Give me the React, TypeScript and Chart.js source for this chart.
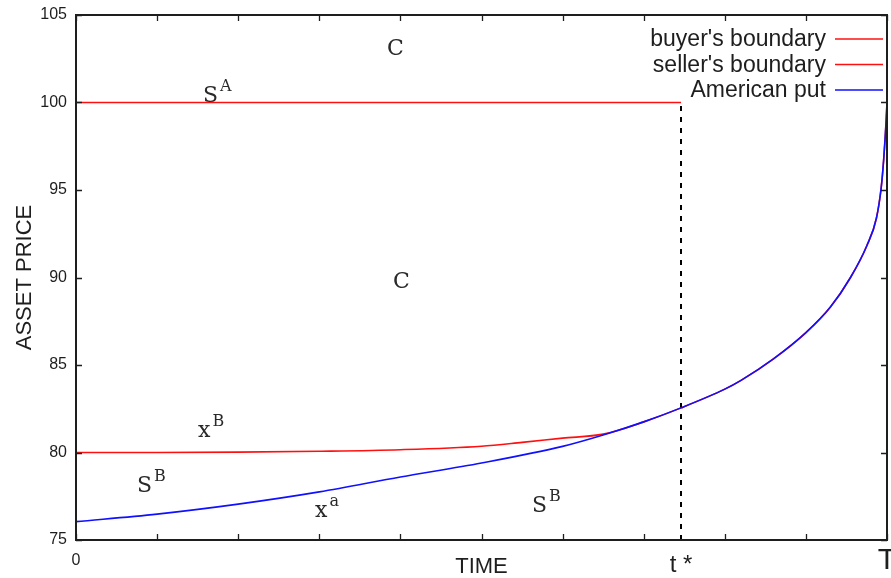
import React, { useEffect, useRef } from "react";
import { Chart, registerables } from "chart.js";

Chart.register(...registerables);

// ---------- data ----------
const timeTickValues = [0, 0.1, 0.2, 0.3, 0.4, 0.5, 0.6, 0.7, 0.8, 0.9, 1];
const tStar = 0.746;
const priceTicks = [75, 80, 85, 90, 95, 100, 105];

const putTime = [0, 0.1, 0.2, 0.3, 0.4, 0.5, 0.6, 0.65, 0.7, 0.746, 0.8, 0.82, 0.86, 0.9, 0.93, 0.955, 0.975, 0.987, 0.993, 0.996, 0.999, 1];
const putPrice = [76.05, 76.48, 77.05, 77.75, 78.6, 79.4, 80.35, 81.0, 81.75, 82.55, 83.62, 84.12, 85.35, 86.85, 88.3, 90.0, 91.8, 93.4, 95.2, 96.8, 99.0, 100];

const buyerTime = [0, 0.1, 0.2, 0.3, 0.4, 0.5, 0.55, 0.6, 0.65, 0.7, 0.746, 0.8, 0.82, 0.86, 0.9, 0.93, 0.955, 0.975, 0.987, 0.993, 0.996, 0.999, 1];
const buyerPrice = [80.0, 80.0, 80.02, 80.07, 80.16, 80.36, 80.58, 80.82, 81.05, 81.75, 82.55, 83.62, 84.12, 85.35, 86.85, 88.3, 90.0, 91.8, 93.4, 95.2, 96.8, 99.0, 100];

const sellerTime = [0, tStar];
const sellerPrice = [100, 100];

const stopTime = [tStar, tStar];
const stopPrice = [99.8, 75];

const seriesLabels = ["buyer's boundary", "seller's boundary", "American put"];

// region annotations (data coordinates: time, price)
const regionText = ["C", "C", "S", "x", "S", "x", "S"];
const regionSup = ["", "", "A", "B", "B", "a", "B"];
const regionTime = [0.3835, 0.3909, 0.1566, 0.1504, 0.0752, 0.2947, 0.5623];
const regionPrice = [102.71, 89.4, 100.03, 80.89, 77.74, 76.31, 76.6];

// ---------- styling ----------
const INK = "#1e1e1e";
const SANS = "'Liberation Sans', Arial, sans-serif";
const SERIF = "'DejaVu Serif', serif";
const RED = "#ff1010";
const BLUE = "#1010ff";

const pts = (xs: number[], ys: number[]) => xs.map((x, i) => ({ x, y: ys[i] }));

const framePlugin = {
  id: "gnuFrame",
  afterDatasetsDraw(chart: any) {
    const { ctx, chartArea: a, scales } = chart;
    const xs = scales.x;
    const ys = scales.y;
    ctx.save();
    ctx.strokeStyle = INK;
    ctx.lineWidth = 1.3;
    const len = 6;
    ctx.beginPath();
    xs.ticks.forEach((t: any) => {
      if (t.value === tStar) return;
      const px = Math.round(xs.getPixelForValue(t.value)) + 0.5;
      ctx.moveTo(px, a.bottom);
      ctx.lineTo(px, a.bottom - len);
      ctx.moveTo(px, a.top);
      ctx.lineTo(px, a.top + len);
    });
    ys.ticks.forEach((t: any) => {
      const py = Math.round(ys.getPixelForValue(t.value)) + 0.5;
      ctx.moveTo(a.left, py);
      ctx.lineTo(a.left + len, py);
      ctx.moveTo(a.right, py);
      ctx.lineTo(a.right - len, py);
    });
    ctx.stroke();
    ctx.lineWidth = 2;
    ctx.strokeRect(a.left, a.top, a.right - a.left, a.bottom - a.top);
    ctx.restore();
  },
};

const keyPlugin = {
  id: "gnuKey",
  afterDraw(chart: any) {
    const { ctx, chartArea: a } = chart;
    const rows = chart.data.datasets.filter((d: any) => seriesLabels.includes(d.label));
    ctx.save();
    ctx.font = `23px ${SANS}`;
    ctx.textAlign = "right";
    ctx.textBaseline = "middle";
    rows.forEach((d: any, i: number) => {
      const y = a.top + 24 + i * 25.5;
      ctx.fillStyle = INK;
      ctx.fillText(d.label, a.right - 61, y + 1);
      ctx.strokeStyle = d.borderColor;
      ctx.lineWidth = 1.6;
      ctx.beginPath();
      ctx.moveTo(a.right - 52, y);
      ctx.lineTo(a.right - 4, y);
      ctx.stroke();
    });
    ctx.restore();
  },
};

const regionPlugin = {
  id: "regionLabels",
  afterDatasetsDraw(chart: any) {
    const { ctx, scales } = chart;
    ctx.save();
    ctx.fillStyle = "#2a2a2a";
    ctx.textAlign = "left";
    ctx.textBaseline = "alphabetic";
    regionText.forEach((txt, i) => {
      const px = scales.x.getPixelForValue(regionTime[i]);
      const py = scales.y.getPixelForValue(regionPrice[i]);
      ctx.font = `22px ${SERIF}`;
      ctx.fillText(txt, px, py);
      const w = ctx.measureText(txt).width;
      if (regionSup[i]) {
        ctx.font = `16px ${SERIF}`;
        ctx.fillText(regionSup[i], px + w + 2, py - 11);
      }
    });
    ctx.restore();
  },
};

export default function App() {
  const ref = useRef<HTMLCanvasElement>(null);

  useEffect(() => {
    const chart = new Chart(ref.current as HTMLCanvasElement, {
      type: "line",
      data: {
        datasets: [
          {
            label: seriesLabels[0],
            data: pts(buyerTime, buyerPrice),
            borderColor: RED,
            borderWidth: 1.6,
            pointRadius: 0,
            cubicInterpolationMode: "monotone",
            order: 1,
          },
          {
            label: seriesLabels[1],
            data: pts(sellerTime, sellerPrice),
            borderColor: RED,
            borderWidth: 1.6,
            pointRadius: 0,
            order: 1,
          },
          {
            label: seriesLabels[2],
            data: pts(putTime, putPrice),
            borderColor: BLUE,
            borderWidth: 1.6,
            pointRadius: 0,
            cubicInterpolationMode: "monotone",
            order: 0,
          },
          {
            label: "t*",
            data: pts(stopTime, stopPrice),
            borderColor: "#000",
            borderWidth: 2,
            borderDash: [5, 6],
            pointRadius: 0,
            order: 2,
          },
        ],
      },
      options: {
        responsive: false,
        devicePixelRatio: 1,
        animation: false,
        layout: { padding: { top: 15, right: 4, bottom: 0, left: 0 } },
        plugins: { legend: { display: false }, tooltip: { enabled: false } },
        scales: {
          x: {
            type: "linear",
            min: 0,
            max: 1,
            afterBuildTicks: (s: any) => {
              s.ticks = [...timeTickValues, tStar].sort((p, q) => p - q).map((v) => ({ value: v }));
            },
            afterFit: (s: any) => {
              s.height = 38;
              s.paddingLeft = 0;
              s.paddingRight = 0;
            },
            grid: { display: false, drawTicks: false },
            border: { display: false },
            ticks: {
              autoSkip: false,
              maxRotation: 0,
              minRotation: 0,
              padding: 13,
              color: INK,
              font: (c: any) => {
                const v = c.tick ? c.tick.value : 0;
                if (v === tStar) return { family: SANS, size: 24, lineHeight: 1 };
                if (v === 1) return { family: SANS, size: 30, lineHeight: 0.5 };
                return { family: SANS, size: 16, lineHeight: 1 };
              },
              callback: (v: any) => (v === 0 ? "0" : v === tStar ? "t *" : v === 1 ? "T" : ""),
            },
            title: {
              display: true,
              text: "TIME",
              color: INK,
              font: { family: SANS, size: 22, lineHeight: 1 },
              padding: { top: 0, bottom: 0 },
            },
          },
          y: {
            type: "linear",
            min: 75,
            max: 105,
            afterBuildTicks: (s: any) => {
              s.ticks = priceTicks.map((v) => ({ value: v }));
            },
            afterFit: (s: any) => {
              s.width = 76;
              s.paddingTop = 0;
              s.paddingBottom = 0;
            },
            grid: { display: false, drawTicks: false },
            border: { display: false },
            ticks: {
              padding: 9,
              color: INK,
              font: { family: SANS, size: 16 },
            },
            title: {
              display: true,
              text: "ASSET PRICE",
              color: INK,
              font: { family: SANS, size: 22, lineHeight: 1 },
              padding: { top: 14, bottom: 0 },
            },
          },
        },
      },
      plugins: [regionPlugin, framePlugin, keyPlugin],
    } as any);
    return () => chart.destroy();
  }, []);

  return (
    <div style={{ position: "fixed", left: 0, top: 0, width: 891, height: 578, background: "#fff" }}>
      <canvas ref={ref} width={891} height={578} style={{ display: "block", width: 891, height: 578 }} />
    </div>
  );
}
